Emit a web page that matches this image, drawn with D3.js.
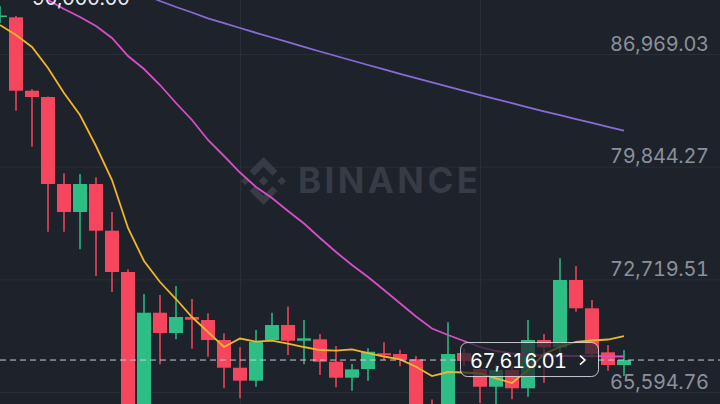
<!DOCTYPE html>
<html>
<head>
<meta charset="utf-8">
<script src="https://cdn.jsdelivr.net/npm/d3@7"></script>
<style>
html,body{margin:0;padding:0;background:#1e222b;}
svg{display:block;}
text{font-variant-numeric:tabular-nums;font-feature-settings:"tnum" 1;}
</style>
</head>
<body>
<svg id="chart" width="720" height="404"></svg>
<script>
// ---- data ----
const openP  = [89309, 89290, 84648, 84250, 78748, 76977, 78748, 75794, 73183, 63507, 70609, 69325, 70337, 70147, 68882, 67131, 66309, 68882, 69831, 68838, 68927, 67510, 66498, 67048, 68041, 67997, 67662, 64329, 63507, 68060, 67048, 65929, 66985, 65828, 68882, 68421, 72677, 70887, 68104, 67301];
const closeP = [89404, 84648, 84250, 78748, 76977, 78748, 75794, 73183, 63507, 70609, 69325, 70337, 70166, 68882, 67131, 66309, 68775, 69831, 68838, 68990, 67510, 66498, 67029, 68142, 67915, 67649, 64139, 63507, 67997, 67554, 65929, 66985, 65828, 68882, 68421, 72677, 70887, 67997, 67301, 67616.01];
const highP  = [90000, 89372, 84737, 84280, 79424, 79380, 79172, 76977, 73354, 71791, 71728, 72297, 71475, 70571, 69306, 68421, 69515, 70609, 71001, 70147, 69262, 68503, 67365, 68358, 68737, 68269, 67871, 65120, 70001, 68314, 67491, 67301, 67238, 70147, 69262, 74049, 73562, 71412, 68566, 68250];
const lowP   = [88929, 83383, 81107, 75731, 75731, 74618, 72930, 71918, 62684, 63064, 67346, 68927, 68332, 67826, 65828, 65195, 65929, 68860, 67934, 67346, 66669, 65891, 65676, 66309, 67618, 67219, 63507, 62684, 63064, 67238, 64898, 64835, 65132, 65297, 66182, 67934, 70672, 67744, 66941, 66606];
const ma7  = [88803, 88171, 87412, 86084, 84503, 83111, 81151, 79001, 75965, 73878, 72550, 71475, 70337, 69388, 68440, 68977, 68775, 68838, 68661, 68440, 68250, 68206, 68294, 68060, 67839, 67662, 67194, 66606, 66859, 66827, 66764, 66460, 66163, 66985, 67997, 68440, 68756, 68851, 68914, 69135];
const ma25 = [91775, 91269, 90763, 90384, 89815, 89309, 88740, 87981, 86843, 86020, 85009, 83870, 82795, 81530, 80519, 79475, 78558, 77862, 77040, 76250, 75333, 74448, 73625, 72867, 72044, 71203, 70369, 69610, 69199, 68819, 68440, 68187, 68029, 67934, 67902, 67871, 67871, 67871, 67852, 67839];
const ma99 = [null, null, null, null, null, null, null, null, 91143, 90732, 90321, 89941, 89594, 89227, 88917, 88613, 88310, 88013, 87715, 87418, 87127, 86843, 86558, 86273, 85995, 85717, 85445, 85173, 84901, 84635, 84370, 84111, 83858, 83598, 83345, 83099, 82852, 82606, 82365, 82131];
const priceTicks = [86969.03, 79844.27, 72719.51, 65594.76];
const highLabel = "90,000.00";
const lastPrice = 67616.01;

// ---- setup ----
const W = 720, H = 404;
const svg = d3.select("#chart");
const BG = "#1e222b", GRID = "#2a2e37", UP = "#2ebd85", DOWN = "#f6465d";
const FONT = "Inter, 'Noto Sans', sans-serif";

const idx = d3.range(openP.length);
const x = d3.scaleLinear().domain([0, 39]).range([0, 624]);
const y = d3.scaleLinear().domain([65594.76, 86969.03]).range([392, 54]);

svg.append("rect").attr("width", W).attr("height", H).attr("fill", BG);

// vertical grid via axis
const gx = svg.append("g")
  .call(d3.axisBottom(x).tickValues([15, 30]).tickSize(H).tickFormat(""));
gx.select(".domain").remove();
gx.selectAll("line").attr("stroke", GRID).attr("stroke-width", 1);

// horizontal grid + labels via axis
const gy = svg.append("g").attr("transform", `translate(${W},0)`)
  .call(d3.axisLeft(y).tickValues(priceTicks).tickSize(W).tickFormat(d3.format(",.2f")));
gy.select(".domain").remove();
gy.selectAll("line").attr("stroke", GRID).attr("stroke-width", 1);
gy.selectAll("text")
  .attr("x", -11).attr("dy", "-4px")
  .attr("text-anchor", "end")
  .attr("fill", "#8b919a")
  .attr("font-family", FONT)
  .attr("font-size", 20)
  .attr("textLength", 99);

// watermark
const wm = svg.append("g").attr("transform", "translate(263.5,181)").attr("fill", "#363b45");
const s = 24;
const dia = (cx, cy, r) => `M${cx},${cy - r}L${cx + r},${cy}L${cx},${cy + r}L${cx - r},${cy}Z`;
wm.append("path").attr("d", dia(0, 0, 0.2 * s));
wm.append("path").attr("d", dia(-0.76 * s, 0, 0.18 * s));
wm.append("path").attr("d", dia(0.76 * s, 0, 0.18 * s));
const chev = k => `M0,${-1 * s * k}L${0.58 * s},${-0.42 * s * k}L${0.38 * s},${-0.22 * s * k}L0,${-0.6 * s * k}L${-0.38 * s},${-0.22 * s * k}L${-0.58 * s},${-0.42 * s * k}Z`;
wm.append("path").attr("d", chev(1));
wm.append("path").attr("d", chev(-1));
svg.append("text").attr("x", 298).attr("y", 193)
  .attr("font-family", FONT).attr("font-weight", 700).attr("font-size", 35)
  .attr("fill", "#363b45").attr("textLength", 180).text("BINANCE");

// candles
const bw = 14;
const cg = svg.append("g");
const candle = cg.selectAll("g.c").data(idx).join("g").attr("class", "c");
candle.append("line")
  .attr("x1", i => x(i)).attr("x2", i => x(i))
  .attr("y1", i => y(highP[i])).attr("y2", i => y(lowP[i]))
  .attr("stroke", i => closeP[i] >= openP[i] ? UP : DOWN)
  .attr("stroke-width", 1.5);
candle.append("rect")
  .attr("x", i => x(i) - bw / 2)
  .attr("width", bw)
  .attr("y", i => y(Math.max(openP[i], closeP[i])))
  .attr("height", i => Math.max(1.5, Math.abs(y(openP[i]) - y(closeP[i]))))
  .attr("fill", i => closeP[i] >= openP[i] ? UP : DOWN);

// moving averages
const mkLine = arr => d3.line().defined(i => arr[i] != null).x(i => x(i)).y(i => y(arr[i]))(idx);
svg.append("path").attr("d", mkLine(ma99)).attr("fill", "none").attr("stroke", "#8a6bd6").attr("stroke-width", 1.8);
svg.append("path").attr("d", mkLine(ma25)).attr("fill", "none").attr("stroke", "#d64fc9").attr("stroke-width", 1.8);
svg.append("path").attr("d", mkLine(ma7)).attr("fill", "none").attr("stroke", "#efb62a").attr("stroke-width", 1.8);

// last price dashed line
const ly = y(lastPrice);
const bx0 = 460, bx1 = 598;
[[0, bx0], [bx1, W]].forEach(([a, b]) => {
  svg.append("line").attr("x1", a).attr("x2", b).attr("y1", ly).attr("y2", ly)
    .attr("stroke", "#c9cdd4").attr("stroke-width", 1).attr("stroke-dasharray", "6,4");
});

// last price box
svg.append("rect").attr("x", bx0 + 0.5).attr("y", ly - 17.5).attr("width", bx1 - bx0).attr("height", 34)
  .attr("rx", 7).attr("fill", "rgba(30,34,43,0.72)").attr("stroke", "rgba(225,228,232,0.85)").attr("stroke-width", 1);
svg.append("text").attr("x", 470).attr("y", ly + 8)
  .attr("font-family", FONT).attr("font-size", 20).attr("fill", "#ffffff")
  .attr("textLength", 97)
  .text(d3.format(",.2f")(lastPrice));
svg.append("path").attr("d", `M${580},${ly - 4.5}L${585},${ly}L${580},${ly + 4.5}`)
  .attr("fill", "none").attr("stroke", "#ffffff").attr("stroke-width", 1.6);

// high label at top (cut by the top edge, as in the reference)
svg.append("text").attr("x", 32).attr("y", 5)
  .attr("font-family", FONT).attr("font-size", 20).attr("fill", "#eaecef")
  .attr("textLength", 98)
  .text(highLabel);
</script>
</body>
</html>
